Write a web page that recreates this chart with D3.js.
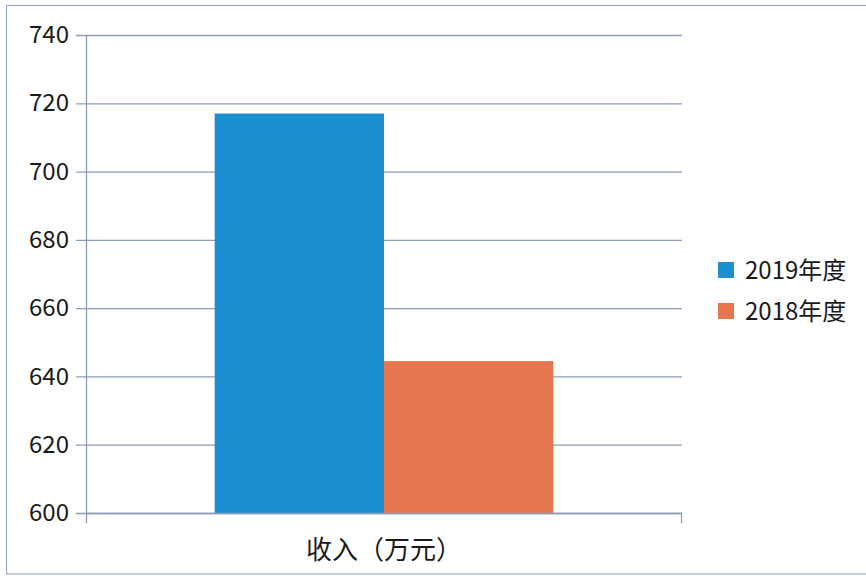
<!DOCTYPE html>
<html>
<head>
<meta charset="utf-8">
<script src="https://cdn.jsdelivr.net/npm/d3@7"></script>
<style>
  html, body { margin: 0; padding: 0; background: #fff; }
  svg { display: block; }
  text { font-family: "Noto Sans CJK SC", "Noto Sans", sans-serif; fill: #1a1a1a; }
</style>
</head>
<body>
<svg id="chart" width="866" height="583"></svg>
<script>
// Revenue by year (unit: 10k yuan)
const categories = ["收入（万元）"];
const seriesNames = ["2019年度", "2018年度"];
const values2019 = [717];
const values2018 = [644.5];
const yTicks = [600, 620, 640, 660, 680, 700, 720, 740];
const colors = ["#1b8fcf", "#e4774f"];

const svg = d3.select("#chart");
const W = 866, H = 583;
const plot = { left: 86, right: 682, top: 35, bottom: 513 };
const gridColor = "#8d9db8";

// outer frame
svg.append("rect")
  .attr("x", 6.5).attr("y", 5.5)
  .attr("width", W + 10).attr("height", 574 - 5.5)
  .attr("fill", "none").attr("stroke", "#9aaac4").attr("stroke-width", 1.2);

const y = d3.scaleLinear().domain([600, 740]).range([plot.bottom, plot.top]);
const x0 = d3.scaleBand().domain(categories).range([plot.left, plot.right]).paddingInner(0).paddingOuter(0.38);
const x1 = d3.scaleBand().domain(seriesNames).range([0, x0.bandwidth()]).padding(0);

// horizontal gridlines
svg.append("g").selectAll("line").data(yTicks).join("line")
  .attr("x1", plot.left - 10).attr("x2", plot.right)
  .attr("y1", d => y(d) + 0.5).attr("y2", d => y(d) + 0.5)
  .attr("stroke", gridColor).attr("stroke-width", 1.3);

// y axis labels
const yAxis = d3.axisLeft(y).tickValues(yTicks).tickSize(0).tickPadding(17);
const gy = svg.append("g").attr("transform", `translate(${plot.left},0)`).call(yAxis);
gy.select(".domain").remove();
gy.selectAll("text").attr("font-size", 24).style("fill", "#1a1a1a")
  .attr("font-family", "'Open Sans', 'Noto Sans', sans-serif");

// bars
const rows = categories.map((c, i) => ({ cat: c, vals: [values2019[i], values2018[i]] }));
const groups = svg.append("g").selectAll("g").data(rows).join("g")
  .attr("transform", d => `translate(${x0(d.cat)},0)`);
groups.selectAll("rect").data(d => d.vals.map((v, k) => ({ key: seriesNames[k], v, k })))
  .join("rect")
  .attr("x", d => x1(d.key))
  .attr("width", x1.bandwidth())
  .attr("y", d => y(d.v))
  .attr("height", d => y(600) - y(d.v))
  .attr("fill", d => colors[d.k]);

// axis lines
svg.append("line").attr("x1", plot.left + 0.5).attr("x2", plot.left + 0.5)
  .attr("y1", plot.top).attr("y2", plot.bottom + 10)
  .attr("stroke", gridColor).attr("stroke-width", 1.3);
svg.append("line").attr("x1", plot.left).attr("x2", plot.right)
  .attr("y1", plot.bottom + 0.5).attr("y2", plot.bottom + 0.5)
  .attr("stroke", gridColor).attr("stroke-width", 1.3);
svg.append("line").attr("x1", plot.right - 0.5).attr("x2", plot.right - 0.5)
  .attr("y1", plot.bottom).attr("y2", plot.bottom + 10)
  .attr("stroke", gridColor).attr("stroke-width", 1.3);

// category label
svg.append("g").selectAll("text").data(categories).join("text")
  .attr("x", d => x0(d) + x0.bandwidth() / 2)
  .attr("y", 559)
  .attr("text-anchor", "middle")
  .attr("font-size", 26)
  .text(d => d);

// legend
const legend = svg.append("g").selectAll("g").data(seriesNames).join("g")
  .attr("transform", (d, i) => `translate(718, ${262 + i * 41})`);
legend.append("rect").attr("width", 16).attr("height", 16).attr("fill", (d, i) => colors[i]);
legend.append("text").attr("x", 27).attr("y", 17).attr("font-size", 24).text(d => d);
</script>
</body>
</html>
